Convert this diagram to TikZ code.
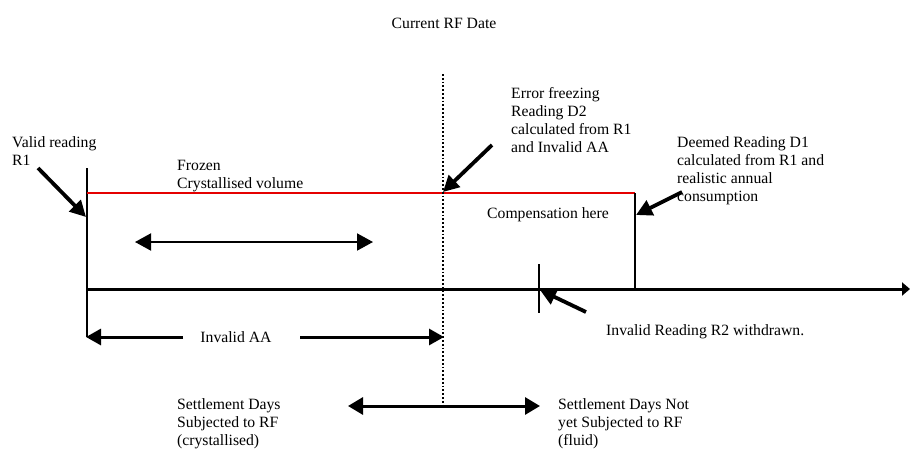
\documentclass[tikz,border=0pt]{standalone}
\usepackage{fontspec}
\setmainfont{Liberation Serif}
\usetikzlibrary{arrows.meta}
\begin{document}
\begin{tikzpicture}[x=1pt,y=-1pt,
  lbl/.style={font=\fontsize{15.7}{18}\selectfont, inner sep=0pt, align=left, anchor=north west},
  thinline/.style={line width=1.3pt, black},
  redline/.style={line width=1.5pt, red!90!black},
  axisline/.style={line width=3pt, -{Triangle[length=8pt,width=13pt]}},
  diagarrow/.style={line width=3.8pt, -{Triangle[length=16pt,width=16pt]}},
  hzarrow/.style={line width=3pt, -{Triangle[length=15pt,width=16pt]}},
  dblarrow/.style={line width=2pt, {Triangle[length=16pt,width=17pt]}-{Triangle[length=16pt,width=17pt]}},
  dblarrowb/.style={line width=3pt, {Triangle[length=15pt,width=17pt]}-{Triangle[length=15pt,width=17pt]}},
  dotline/.style={line width=1.8pt, dotted},
]
\useasboundingbox (0,0) rectangle (910,448);

% coordinates
\coordinate (r1top) at (87,168);
\coordinate (r1bot) at (87,337);
\coordinate (redL) at (87,193);
\coordinate (redR) at (635,193);
\coordinate (d1bot) at (635,289);
\coordinate (axL) at (86,289);
\coordinate (axR) at (910,289);
\coordinate (dotT) at (443,74);
\coordinate (dotB) at (443,406);
\coordinate (tickT) at (539,264);
\coordinate (tickB) at (539,313);
\coordinate (frL) at (135,242);
\coordinate (frR) at (373,242);
\coordinate (aaL) at (86,337);
\coordinate (aaLt) at (183,337);
\coordinate (aaRt) at (300,337);
\coordinate (aaR) at (444,337);
\coordinate (sdL) at (348,406);
\coordinate (sdR) at (540,406);
\coordinate (r1a) at (38,168);
\coordinate (r1b) at (86,217);
\coordinate (era) at (492,145);
\coordinate (erb) at (443,192);
\coordinate (d1a) at (682,192);
\coordinate (d1b) at (636,215);
\coordinate (r2a) at (586,312);
\coordinate (r2b) at (540,290);

% structure lines
\draw[thinline] (r1top) -- (r1bot);
\draw[redline] (redL) -- (redR);
\draw[thinline] (redR) -- (d1bot);
\draw[thinline] (tickT) -- (tickB);
\draw[dotline] (dotT) -- (dotB);
\draw[axisline] (axL) -- (axR);

% arrows
\draw[dblarrow] (frL) -- (frR);
\draw[hzarrow] (aaLt) -- (aaL);
\draw[hzarrow] (aaRt) -- (aaR);
\draw[dblarrowb] (sdL) -- (sdR);
\draw[diagarrow] (r1a) -- (r1b);
\draw[diagarrow] (era) -- (erb);
\draw[diagarrow] (d1a) -- (d1b);
\draw[diagarrow] (r2a) -- (r2b);

% labels
\node[lbl, anchor=center] (crf) at (444,23) {Current RF Date};
\node[lbl] (valid) at (12,136) {Valid reading\\R1};
\node[lbl] (frozen) at (177,160) {Frozen\\Crystallised volume};
\node[lbl] (err) at (511,87) {Error freezing\\Reading D2\\calculated from R1\\and Invalid AA};
\node[lbl] (deemed) at (677,136) {Deemed Reading D1\\calculated from R1 and\\realistic annual\\consumption};
\node[lbl] (comp) at (487,207) {Compensation here};
\node[lbl, anchor=center] (iaa) at (236,337) {Invalid AA};
\node[lbl, anchor=west] (r2) at (606,332) {Invalid Reading R2 withdrawn.};
\node[lbl] (sds) at (177,398) {Settlement Days\\Subjected to RF\\(crystallised)};
\node[lbl] (sdn) at (558,398) {Settlement Days Not\\yet Subjected to RF\\(fluid)};
\end{tikzpicture}
\end{document}
